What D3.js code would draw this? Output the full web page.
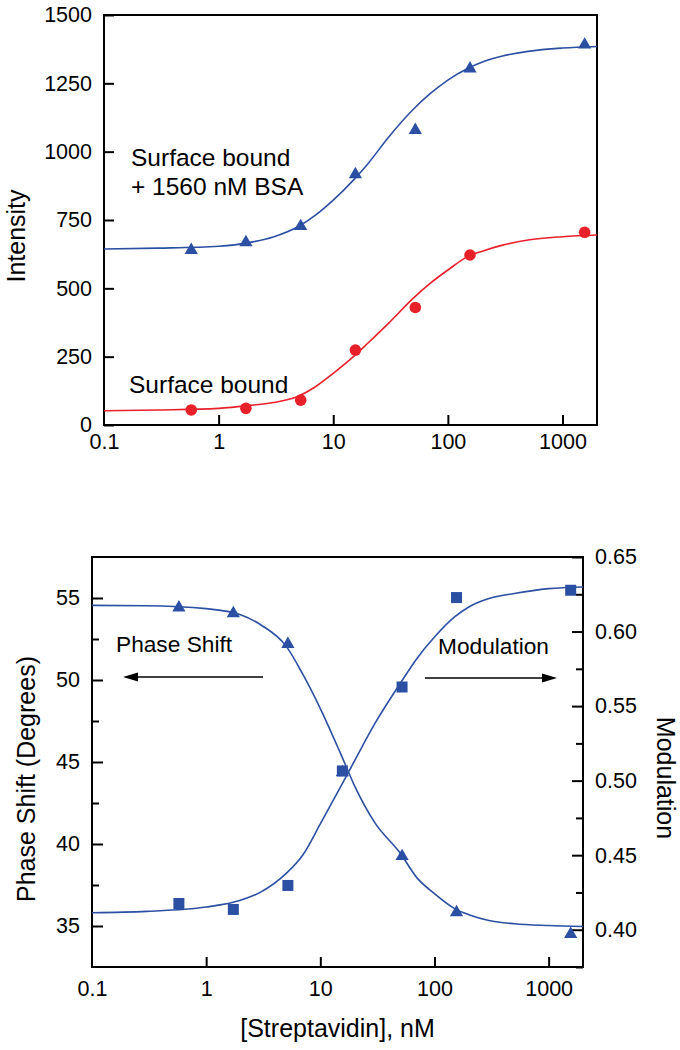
<!DOCTYPE html>
<html>
<head>
<meta charset="utf-8">
<script src="https://cdn.jsdelivr.net/npm/d3@7"></script>
<style>
  html, body { margin: 0; padding: 0; background: #fff; }
  svg { display: block; }
  text { font-family: "Liberation Sans", Arial, Helvetica, sans-serif; fill: #000; }
</style>
</head>
<body>
<svg id="chart" width="680" height="1050"></svg>
<script>
// ---------------- data ----------------
const concentrations = [0.577, 1.73, 5.2, 15.6, 52, 156, 1560];      // nM streptavidin
const bsaIntensity = [640, 668, 727, 917, 1079, 1304, 1391];          // surface bound + 1560 nM BSA
const surfaceIntensity = [55, 61, 91, 274, 430, 622, 705];            // surface bound
const phaseShift = [54.41, 54.06, 52.19, 44.37, 39.25, 35.83, 34.50]; // degrees
const modulation = [0.4176, 0.4136, 0.4297, 0.5065, 0.5628, 0.6228, 0.6277];

// fitted curves
const curveX = [0.1, 0.3, 1, 2, 3, 5, 7, 10, 15, 20, 30, 50, 70, 100, 150, 200, 300, 500, 1000, 2000];
const bsaFit = [644, 647, 654, 670, 688, 727, 768, 823, 896, 955, 1050, 1155, 1212, 1262, 1305, 1328, 1350, 1367, 1379, 1385];
const surfaceFit = [52, 55, 61, 73, 82, 106, 140, 189, 250, 299, 370, 464, 518, 567, 617, 636, 658, 677, 689, 695];
const phaseFit = [54.55, 54.53, 54.35, 53.98, 53.37, 52.08, 50.37, 48.26, 45.54, 43.53, 41.3, 39.45, 37.95, 36.97, 36.06, 35.69, 35.34, 35.14, 35.03, 34.97];
const modulationFit = [0.4114, 0.4123, 0.4152, 0.4197, 0.4252, 0.4376, 0.4499, 0.4710, 0.4957, 0.5135, 0.5382, 0.5651, 0.5818, 0.5963, 0.6098, 0.6165, 0.6221, 0.6255, 0.6288, 0.6299];

const xTicks = [1, 10, 100, 1000];
const xTickLabels = ["0.1", "1", "10", "100", "1000"];
const xLabelValues = [0.1, 1, 10, 100, 1000];
const intensityTicks = [0, 250, 500, 750, 1000, 1250, 1500];
const phaseTicks = [35, 40, 45, 50, 55];
const phaseMinor = [37.5, 42.5, 47.5, 52.5];
const modTicks = [0.40, 0.45, 0.50, 0.55, 0.60, 0.65];
const modMinor = [0.375, 0.425, 0.475, 0.525, 0.575, 0.625];

const BLUE = "#2a4fa3";
const RED = "#e8202a";
const TICK_FS = 21.5;

const svg = d3.select("#chart");

function styleAxis(g) {
  g.select(".domain").remove();
  g.selectAll("line").attr("stroke", "#000").attr("stroke-width", 2);
  g.selectAll("text").style("font-size", TICK_FS + "px").attr("fill", "#000");
}

function frame(x0, x1, y0, y1) {
  svg.append("rect")
    .attr("x", x0).attr("y", y0)
    .attr("width", x1 - x0).attr("height", y1 - y0)
    .attr("fill", "none").attr("stroke", "#000").attr("stroke-width", 2);
}

// ---------------- top chart ----------------
{
  const L = 104, R = 597, T = 15, B = 425;
  const x = d3.scaleLog().domain([0.1, 2000]).range([L, R]);
  const y = d3.scaleLinear().domain([0, 1500]).range([B, T]);

  svg.append("g").attr("transform", `translate(${L},0)`)
    .call(d3.axisLeft(y).tickValues(intensityTicks).tickSize(-10).tickPadding(12).tickFormat(d3.format("d")))
    .call(styleAxis);
  svg.append("g").attr("transform", `translate(0,${B})`)
    .call(d3.axisBottom(x).tickValues(xTicks).tickSize(-10).tickFormat(""))
    .call(styleAxis);
  svg.append("g").attr("transform", `translate(0,${B})`)
    .call(d3.axisBottom(x).tickValues(xLabelValues).tickSize(0).tickPadding(9)
      .tickFormat((d, i) => xTickLabels[i]))
    .call(styleAxis);

  frame(L, R, T, B);

  const line = d3.line().x(d => x(d[0])).y(d => y(d[1])).curve(d3.curveMonotoneX);
  svg.append("path").datum(curveX.map((c, i) => [c, bsaFit[i]]))
    .attr("d", line).attr("fill", "none").attr("stroke", BLUE).attr("stroke-width", 1.6);
  svg.append("path").datum(curveX.map((c, i) => [c, surfaceFit[i]]))
    .attr("d", line).attr("fill", "none").attr("stroke", RED).attr("stroke-width", 1.6);

  const tri = d3.symbol().type(d3.symbolTriangle).size(76);
  svg.append("g").selectAll("path").data(concentrations).join("path")
    .attr("d", tri).attr("fill", BLUE)
    .attr("transform", (c, i) => `translate(${x(c)},${y(bsaIntensity[i])})`);
  svg.append("g").selectAll("circle").data(concentrations).join("circle")
    .attr("cx", c => x(c)).attr("cy", (c, i) => y(surfaceIntensity[i]))
    .attr("r", 5.8).attr("fill", RED);

  svg.append("text").attr("x", 131).attr("y", 166).style("font-size", "24.5px").text("Surface bound");
  svg.append("text").attr("x", 131).attr("y", 195).style("font-size", "24.5px").text("+ 1560 nM BSA");
  svg.append("text").attr("x", 129).attr("y", 393).style("font-size", "24.5px").text("Surface bound");

  svg.append("text").attr("transform", "translate(25,236) rotate(-90)")
    .attr("text-anchor", "middle").style("font-size", "25px").text("Intensity");
}

// ---------------- bottom chart ----------------
{
  const L = 92, R = 583, T = 557, B = 967;
  const x = d3.scaleLog().domain([0.1, 2000]).range([L, R]);
  const yL = d3.scaleLinear().domain([32.5, 57.5]).range([B, T]);
  const yR = d3.scaleLinear().domain([0.375, 0.65]).range([B, T]);

  svg.append("g").attr("transform", `translate(${L},0)`)
    .call(d3.axisLeft(yL).tickValues(phaseTicks).tickSize(-11).tickPadding(12).tickFormat(d3.format("d")))
    .call(styleAxis);
  svg.append("g").attr("transform", `translate(${L},0)`)
    .call(d3.axisLeft(yL).tickValues(phaseMinor).tickSize(-7).tickFormat(""))
    .call(styleAxis);

  svg.append("g").attr("transform", `translate(${R},0)`)
    .call(d3.axisRight(yR).tickValues(modTicks).tickSize(-11).tickPadding(12).tickFormat(d3.format(".2f")))
    .call(styleAxis);
  svg.append("g").attr("transform", `translate(${R},0)`)
    .call(d3.axisRight(yR).tickValues(modMinor).tickSize(-7).tickFormat(""))
    .call(styleAxis);

  svg.append("g").attr("transform", `translate(0,${B})`)
    .call(d3.axisBottom(x).tickValues(xTicks).tickSize(-10).tickFormat(""))
    .call(styleAxis);
  svg.append("g").attr("transform", `translate(0,${B})`)
    .call(d3.axisBottom(x).tickValues(xLabelValues).tickSize(0).tickPadding(14)
      .tickFormat((d, i) => xTickLabels[i]))
    .call(styleAxis);

  frame(L, R, T, B);

  const lineL = d3.line().x(d => x(d[0])).y(d => yL(d[1])).curve(d3.curveMonotoneX);
  const lineR = d3.line().x(d => x(d[0])).y(d => yR(d[1])).curve(d3.curveMonotoneX);
  svg.append("path").datum(curveX.map((c, i) => [c, phaseFit[i]]))
    .attr("d", lineL).attr("fill", "none").attr("stroke", BLUE).attr("stroke-width", 1.6);
  svg.append("path").datum(curveX.map((c, i) => [c, modulationFit[i]]))
    .attr("d", lineR).attr("fill", "none").attr("stroke", BLUE).attr("stroke-width", 1.6);

  const tri = d3.symbol().type(d3.symbolTriangle).size(76);
  svg.append("g").selectAll("path").data(concentrations).join("path")
    .attr("d", tri).attr("fill", BLUE)
    .attr("transform", (c, i) => `translate(${x(c)},${yL(phaseShift[i])})`);
  svg.append("g").selectAll("rect").data(concentrations).join("rect")
    .attr("x", c => x(c) - 5.5).attr("y", (c, i) => yR(modulation[i]) - 5.5)
    .attr("width", 11).attr("height", 11).attr("fill", BLUE);

  svg.append("text").attr("x", 116).attr("y", 652).style("font-size", "22.7px").text("Phase Shift");
  svg.append("text").attr("x", 438).attr("y", 654).style("font-size", "22.7px").text("Modulation");

  function arrow(x1, x2, yy) {
    const dir = Math.sign(x2 - x1);
    svg.append("line").attr("x1", x1).attr("x2", x2 - dir * 12).attr("y1", yy).attr("y2", yy)
      .attr("stroke", "#000").attr("stroke-width", 1.6);
    svg.append("path")
      .attr("d", `M${x2},${yy} L${x2 - dir * 15},${yy - 4.5} L${x2 - dir * 15},${yy + 4.5} Z`)
      .attr("fill", "#000");
  }
  arrow(263, 123, 677);
  arrow(425, 557, 678);

  svg.append("text").attr("transform", "translate(35,779) rotate(-90)")
    .attr("text-anchor", "middle").style("font-size", "25px").text("Phase Shift (Degrees)");
  svg.append("text").attr("transform", "translate(657,778) rotate(90)")
    .attr("text-anchor", "middle").style("font-size", "25px").text("Modulation");
  svg.append("text").attr("x", (L + R) / 2).attr("y", 1037)
    .attr("text-anchor", "middle").style("font-size", "25px").text("[Streptavidin], nM");
}
</script>
</body>
</html>
